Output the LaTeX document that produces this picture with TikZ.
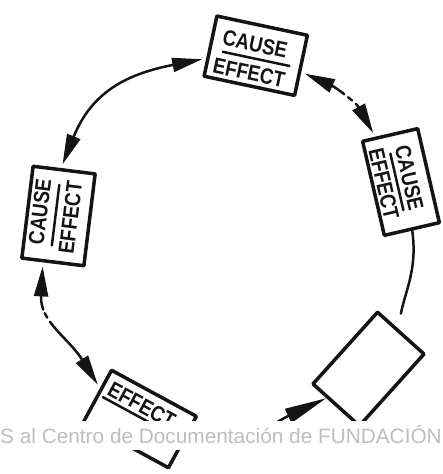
\documentclass[tikz,border=0pt]{standalone}
\usepackage{fontspec}
\setmainfont{Liberation Sans}
\usetikzlibrary{arrows.meta,calc}
\definecolor{ink}{RGB}{20,20,20}
\definecolor{wmgray}{RGB}{190,190,190}
\tikzset{
  wedge/.tip={Triangle[length=30pt,width=14pt,sep=4pt]},
  longwedge/.tip={Triangle[length=42pt,width=15pt]},
  card/.style={draw=ink, line width=3.5pt, line join=round, inner sep=0pt},
  cardtext/.style={font=\fontsize{22}{22}\selectfont\bfseries, text=ink, inner sep=0pt, xscale=0.85},
  divider/.style={draw=ink, line width=2.5pt, line cap=round},
  conn/.style={draw=ink, line width=2.5pt, line cap=round},
}
\begin{document}
\begin{tikzpicture}[x=1pt,y=1pt]
\useasboundingbox (0,0) rectangle (442,474);

% top card
\begin{scope}[shift={(255.75,418.25)}, rotate=-12, transform shape]
  \node[card, minimum width=92.5pt, minimum height=61.5pt] (top) at (0,0) {};
  \node[cardtext] (top-cause) at (-3,11) {CAUSE};
  \draw[divider] (-33,-3) -- (35,-3);
  \node[cardtext] (top-effect) at (-3,-18) {EFFECT};
\end{scope}

% right card
\begin{scope}[shift={(401,292)}, rotate=-77, transform shape]
  \node[card, minimum width=96.5pt, minimum height=56.5pt] (rbox) at (0,0) {};
  \node[cardtext] (rbox-cause) at (-2,9) {CAUSE};
  \draw[divider] (-30,-4) -- (28,-4);
  \node[cardtext] (rbox-effect) at (-2,-17) {EFFECT};
\end{scope}

% left card
\begin{scope}[shift={(58.5,258)}, rotate=83, transform shape]
  \node[card, minimum width=92.5pt, minimum height=62.5pt] (lbox) at (0,0) {};
  \node[cardtext] (lbox-cause) at (2,19) {CAUSE};
  \draw[divider] (-30,3) -- (31,3);
  \node[cardtext] (lbox-effect) at (0,-12) {EFFECT};
\end{scope}

% lower left card
\begin{scope}[shift={(140,55)}, rotate=-28.5, transform shape]
  \node[card, minimum width=96.5pt, minimum height=58.5pt] (blbox) at (0,0) {};
  \node[cardtext] (blbox-effect) at (-5,13) {EFFECT};
  \draw[divider] (-43,1.5) -- (35,1.5);
\end{scope}

% lower right card (blank)
\begin{scope}[shift={(368.5,105)}, rotate=48, transform shape]
  \node[card, minimum width=96.5pt, minimum height=62.5pt] (brbox) at (0,0) {};
\end{scope}

% connector ends on the card borders
\coordinate (t-w) at ($(top.north west)!0.7!(top.south west)$);
\coordinate (t-e) at ($(top.north east)!0.6!(top.south east)$);
\coordinate (r-w) at ($(rbox.south west)!0.25!(rbox.north west)$);
\coordinate (br-e) at ($(brbox.north east)!0.42!(brbox.south east)$);
\coordinate (br-w) at ($(brbox.north west)!0.32!(brbox.south west)$);
\coordinate (l-a) at ($(lbox.north east)!0.45!(lbox.south east)$);
\coordinate (l-w) at ($(lbox.north west)!0.35!(lbox.south west)$);
\coordinate (bl-w) at ($(blbox.north west)!0.37!(blbox.south west)$);
\coordinate (bl-e) at ($(blbox.north east)!0.35!(blbox.south east)$);

% connectors round the loop
\draw[conn, {wedge}-{wedge}] (l-a) to[out=68, in=191, looseness=1.15] (t-w);
\draw[conn, dash pattern=on 15pt off 5pt on 5pt off 5pt, {wedge}-{wedge}] (t-e) to[out=-24, in=119] (r-w);
\draw[conn, shorten >=15pt] (rbox.east) to[out=-82, in=79] (br-e);
\draw[conn, dash pattern=on 14pt off 4pt on 5pt off 5pt on 300pt off 1pt, {wedge}-{wedge}] (l-w) to[out=-93, in=122, looseness=1.1] (bl-w);
\draw[conn, -{longwedge}] (bl-e) to[out=-15, in=205] (br-w);

% caption strip across the foot
\fill[white] (0,24) rectangle (442,53);
\node[anchor=base west, inner sep=0pt, font=\fontsize{20.8}{21}\selectfont, text=wmgray] (wm) at (0,30) {S al Centro de Documentación de FUNDACIÓN};
\end{tikzpicture}
\end{document}
